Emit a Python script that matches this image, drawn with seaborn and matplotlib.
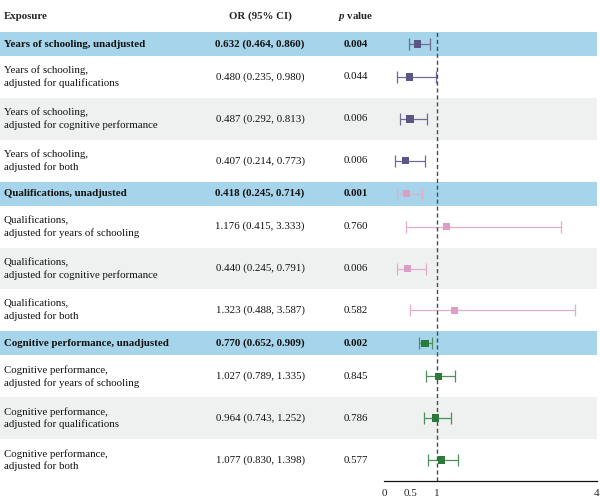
import numpy as np
import pandas as pd
import matplotlib.pyplot as plt
import seaborn as sns

sns.set_theme(style="white")
plt.rcParams['font.family'] = ['Liberation Serif', 'DejaVu Serif']
plt.rcParams['mathtext.fontset'] = 'custom'
plt.rcParams['mathtext.rm'] = 'Liberation Serif'
plt.rcParams['mathtext.it'] = 'Liberation Serif:italic'
plt.rcParams['mathtext.bf'] = 'Liberation Serif:bold'
plt.rcParams['mathtext.bfit'] = 'Liberation Serif:italic:bold'

exposure = [
    "Years of schooling, unadjusted",
    "Years of schooling,\nadjusted for qualifications",
    "Years of schooling,\nadjusted for cognitive performance",
    "Years of schooling,\nadjusted for both",
    "Qualifications, unadjusted",
    "Qualifications,\nadjusted for years of schooling",
    "Qualifications,\nadjusted for cognitive performance",
    "Qualifications,\nadjusted for both",
    "Cognitive performance, unadjusted",
    "Cognitive performance,\nadjusted for years of schooling",
    "Cognitive performance,\nadjusted for qualifications",
    "Cognitive performance,\nadjusted for both",
]
odds_ratio = [0.632, 0.480, 0.487, 0.407, 0.418, 1.176, 0.440, 1.323, 0.770, 1.027, 0.964, 1.077]
ci_low = [0.464, 0.235, 0.292, 0.214, 0.245, 0.415, 0.245, 0.488, 0.652, 0.789, 0.743, 0.830]
ci_high = [0.860, 0.980, 0.813, 0.773, 0.714, 3.333, 0.791, 3.587, 0.909, 1.335, 1.252, 1.398]
p_value = ["0.004", "0.044", "0.006", "0.006", "0.001", "0.760", "0.006", "0.582",
           "0.002", "0.845", "0.786", "0.577"]
group = ["Years of schooling"] * 4 + ["Qualifications"] * 4 + ["Cognitive performance"] * 4
unadjusted = [True, False, False, False] * 3
x_ticks = [0, 0.5, 1, 4]

palette = {"Years of schooling": "#5b5784",
           "Qualifications": "#dc9ec4",
           "Cognitive performance": "#2b7a3c"}
line_colors = {"Years of schooling": "#6e6b96",
               "Qualifications": "#e2adcb",
               "Cognitive performance": "#4f8f5e"}
band_blue = "#a6d5eb"
band_grey = "#eff1f1"
fs = 7.8

df = pd.DataFrame({"exposure": exposure, "OR": odds_ratio, "lo": ci_low, "hi": ci_high,
                   "p": p_value, "group": group, "unadj": unadjusted})

# row layout in pixel units (top of table body at 32 px, axis at 481 px)
top, bottom = 32, 481
heights = np.where(df["unadj"], 24.0, 0.0)
heights[~df["unadj"]] = (bottom - top - heights.sum()) / (~df["unadj"]).sum()
edges = top + np.concatenate([[0], np.cumsum(heights)])
df["y"] = (edges[:-1] + edges[1:]) / 2

fig = plt.figure(figsize=(6, 4.99), dpi=100)
bg = fig.add_axes([0, 0, 1, 1])
bg.set_xlim(0, 600)
bg.set_ylim(499, 0)
bg.axis("off")

for i, row in df.iterrows():
    if row["unadj"]:
        bg.axhspan(edges[i], edges[i + 1], xmin=0, xmax=597 / 600, color=band_blue, lw=0)
    elif i % 4 == 2:
        bg.axhspan(edges[i], edges[i + 1], xmin=0, xmax=597 / 600, color=band_grey, lw=0)
    w = "bold" if row["unadj"] else "normal"
    bg.text(4, row["y"], row["exposure"], ha="left", va="center", fontsize=fs,
            fontweight=w, color="#111111", linespacing=1.4)
    or_txt = f'{row["OR"]:.3f} ({row["lo"]:.3f}, {row["hi"]:.3f})'
    bg.text(260, row["y"], or_txt, ha="center", va="center", fontsize=fs,
            fontweight=w, color="#111111")
    bg.text(356, row["y"], row["p"], ha="center", va="center", fontsize=fs,
            fontweight=w, color="#111111")

bg.text(4, 16, "Exposure", ha="left", va="center", fontsize=fs, fontweight="bold")
bg.text(260, 16, "OR (95% CI)", ha="center", va="center", fontsize=fs, fontweight="bold")
bg.text(356, 16, r"$\mathbfit{p}$ value", ha="center", va="center", fontsize=fs,
        fontweight="bold")

# forest plot
ax = fig.add_axes([384 / 600, (499 - bottom) / 499, 213 / 600, (bottom - top) / 499])
ax.patch.set_alpha(0)
for g, sub in df.groupby("group"):
    ax.errorbar(sub["OR"], sub["y"],
                xerr=[sub["OR"] - sub["lo"], sub["hi"] - sub["OR"]],
                fmt="none", ecolor=line_colors[g], elinewidth=0.9, capsize=4, capthick=0.9)
sns.scatterplot(data=df, x="OR", y="y", hue="group", palette=palette, marker="s",
                s=28, linewidth=0, legend=False, ax=ax, zorder=3)
ax.axvline(1, color="#3e4e5e", lw=1, ls=(0, (3, 2)), zorder=2)
ax.set_xlim(0, 4)
ax.set_ylim(bottom, top)
ax.set_xticks(x_ticks)
ax.set_xticklabels(["0", "0.5", "1", "4"], fontsize=8)
ax.set_yticks([])
ax.set_xlabel("")
ax.set_ylabel("")
for s in ["top", "left", "right"]:
    ax.spines[s].set_visible(False)
ax.spines["bottom"].set_color("#111111")
ax.spines["bottom"].set_linewidth(0.9)
ax.tick_params(axis="x", direction="out", length=4, width=0.9, color="#111111", pad=1.5)

fig.savefig("out.png", dpi=100)
